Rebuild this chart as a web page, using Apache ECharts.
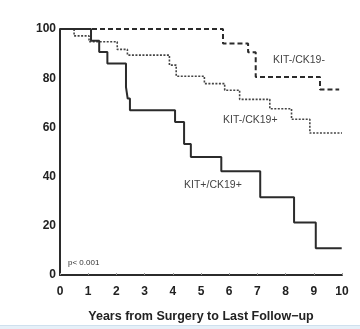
<!DOCTYPE html>
<html><head><meta charset="utf-8">
<script src="https://cdn.jsdelivr.net/npm/echarts@6/dist/echarts.min.js"></script>
<style>html,body{margin:0;padding:0;background:#fff}#c{width:360px;height:329px}</style>
</head><body><div id="c"></div>
<script>
var xTicks = [0,1,2,3,4,5,6,7,8,9,10];
var yTicks = [0,20,40,60,80,100];
// KIT-/CK19- (dashed)
var negNegT = [0, 5.78, 6.67, 6.94, 9.22, 9.9];
var negNegV = [100, 94.1, 90.5, 80.5, 75.4, 75.4];
// KIT-/CK19+ (dotted)
var negPosT = [0, 0.5, 1.03, 2.03, 2.39, 3.88, 4.12, 5.12, 5.84, 6.37, 7.44, 8.21, 8.86, 10];
var negPosV = [100, 97.2, 94.8, 91.7, 89.4, 85.3, 80.8, 77.8, 75.1, 71.4, 67.6, 63.3, 57.7, 57.7];
// KIT+/CK19+ (solid)
var posPosT = [0, 1.1, 1.39, 1.68, 2.34, 2.4, 2.48, 4.08, 4.4, 4.64, 5.72, 7.1, 8.3, 9.07, 9.99];
var posPosV = [100, 95.2, 90.7, 86, 76.4, 71.7, 67, 62.2, 53.3, 48, 42.2, 31.6, 21.3, 10.9, 10.9];
var seriesNames = ['KIT-/CK19-', 'KIT-/CK19+', 'KIT+/CK19+'];

function pairs(t, v){ return t.map(function(x,i){ return [x, v[i]]; }); }

var chart = echarts.init(document.getElementById('c'), null, {renderer:'canvas'});
var lineCol = '#2b2b2b';
chart.setOption({
  animation: false,
  grid: {left: 60, top: 29, width: 282, height: 246},
  xAxis: {
    type: 'value', min: 0, max: 10, interval: 1,
    axisLine: {lineStyle: {color: lineCol, width: 2}},
    axisTick: {show: true, length: 2, inside: true, lineStyle: {color: '#999', width: 1}},
    splitLine: {show: false},
    axisLabel: {color: '#222', fontFamily: 'Liberation Sans, Arial', fontWeight: 'bold', fontSize: 12, margin: 11,
      formatter: function(v){ return xTicks.indexOf(v) >= 0 ? String(v) : ''; }},
    name: 'Years from Surgery to Last Follow\u2212up', nameLocation: 'middle', nameGap: 35,
    nameTextStyle: {color: '#222', fontFamily: 'Liberation Sans, Arial', fontWeight: 'bold', fontSize: 12.5}
  },
  yAxis: {
    type: 'value', min: 0, max: 100, interval: 20,
    axisLine: {show: true, lineStyle: {color: lineCol, width: 2}},
    axisTick: {show: false},
    splitLine: {show: false},
    axisLabel: {color: '#222', fontFamily: 'Liberation Sans, Arial', fontWeight: 'bold', fontSize: 12, margin: 4,
      formatter: function(v){ return yTicks.indexOf(v) >= 0 ? String(v) : ''; }}
  },
  series: [
    {name: seriesNames[0], type: 'line', step: 'end', symbol: 'none', data: pairs(negNegT, negNegV),
     lineStyle: {color: lineCol, width: 2, type: [5, 3]}},
    {name: seriesNames[1], type: 'line', step: 'end', symbol: 'none', data: pairs(negPosT, negPosV),
     lineStyle: {color: '#444', width: 1.6, type: [2, 1.5]}},
    {name: seriesNames[2], type: 'line', step: 'end', symbol: 'none', data: pairs(posPosT, posPosV),
     lineStyle: {color: lineCol, width: 2}}
  ],
  graphic: [
    {type: 'text', left: 273, top: 55, style: {text: seriesNames[0], fill: '#444', font: '10.5px "Liberation Sans", Arial'}},
    {type: 'text', left: 223, top: 115, style: {text: seriesNames[1], fill: '#444', font: '10.5px "Liberation Sans", Arial'}},
    {type: 'text', left: 184, top: 180, style: {text: seriesNames[2], fill: '#444', font: '10.5px "Liberation Sans", Arial'}},
    {type: 'text', left: 68, top: 259, style: {text: 'p< 0.001', fill: '#333', font: '8px "Liberation Sans", Arial'}},
    {type: 'rect', left: 0, top: 325, shape: {width: 360, height: 4}, style: {fill: '#e6f0f8'}},
    {type: 'rect', left: 0, top: 325, shape: {width: 360, height: 1}, style: {fill: '#cfe0ee'}}
  ]
});
</script></body></html>
